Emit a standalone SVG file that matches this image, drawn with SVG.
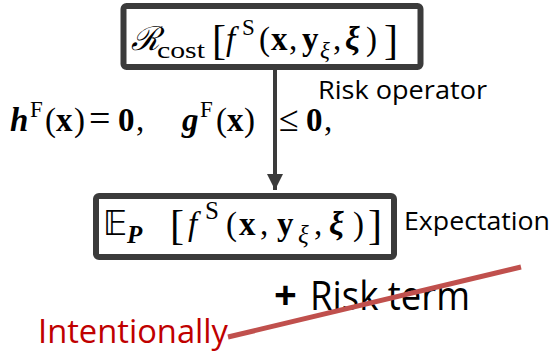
<svg xmlns="http://www.w3.org/2000/svg" width="557" height="352" viewBox="0 0 557 352">
<style>
.box{fill:#fff;stroke:#3b3b3b;stroke-width:6}
.m{font-family:"Liberation Serif","DejaVu Serif",serif;font-size:33px;fill:#000}
.s{font-size:23px}
.br{font-size:42px;font-weight:normal}
.lbl{font-family:"Open Sans","Liberation Sans",sans-serif;fill:#000}
.b{font-weight:bold}
.i{font-style:italic}
</style>
<defs>
<marker id="ah" viewBox="0 0 10 10" refX="10" refY="5" markerWidth="4" markerHeight="4.25" orient="auto" markerUnits="strokeWidth">
<path d="M0,0 L10,5 L0,10 Z" fill="#3b3b3b"/>
</marker>
</defs>
<rect width="557" height="352" fill="#fff"/>
<g id="connectors">
<line x1="275" y1="70" x2="275" y2="190" stroke="#3b3b3b" stroke-width="4" marker-end="url(#ah)"/>
</g>
<g id="node-risk">
<rect class="box" x="123.5" y="6" width="297" height="61" rx="3"/>
<g class="m">
<text x="131" y="50" font-family="DejaVu Serif" font-style="italic" font-size="33">ℛ</text>
<text x="157" y="58" class="s" font-size="26" textLength="48" lengthAdjust="spacingAndGlyphs">cost</text>
<text x="212" y="54" class="br">[</text>
<text x="226" y="50" class="i">f</text>
<text x="242" y="35" class="s">S</text>
<text x="259" y="50">(</text>
<text x="271" y="50" class="b">x</text>
<text x="289" y="50">,</text>
<text x="302" y="50" class="b">y</text>
<text x="320" y="58" class="s i">ξ</text>
<text x="333" y="50">,</text>
<text x="345" y="50" class="b i">ξ</text>
<text x="366" y="50">)</text>
<text x="384" y="54" class="br">]</text>
</g>
</g>
<g id="constraints" class="m">
<text x="10" y="131" class="b i">h</text>
<text x="30" y="117" class="s">F</text>
<text x="45" y="131">(</text>
<text x="56" y="131" class="b">x</text>
<text x="74" y="131">)</text>
<text x="89" y="131" font-size="38">=</text>
<text x="118" y="131" class="b">0</text>
<text x="136" y="131">,</text>
<text x="182" y="131" class="b i">g</text>
<text x="200" y="117" class="s">F</text>
<text x="216" y="131">(</text>
<text x="227" y="131" class="b">x</text>
<text x="244" y="131">)</text>
<text x="279" y="131" font-size="36">≤</text>
<text x="306" y="131" class="b">0</text>
<text x="324" y="131">,</text>
</g>
<text class="lbl" x="318" y="99" font-size="26" textLength="169" lengthAdjust="spacingAndGlyphs">Risk operator</text>
<g id="node-expectation">
<rect class="box" x="96" y="196" width="298" height="61" rx="3"/>
<g class="m" font-size="36">
<text x="103" y="235" font-family="DejaVu Sans" font-size="33">𝔼</text>
<text x="127" y="243" class="b i" font-size="25">P</text>
<text x="170" y="239" class="br" font-size="46">[</text>
<text x="188" y="235" class="i">f</text>
<text x="205" y="219" font-size="25">S</text>
<text x="226" y="235">(</text>
<text x="239" y="235" class="b">x</text>
<text x="260" y="235">,</text>
<text x="277" y="235" class="b">y</text>
<text x="298" y="243" class="i" font-size="25">ξ</text>
<text x="314" y="235">,</text>
<text x="329" y="235" class="b i">ξ</text>
<text x="353" y="235">)</text>
<text x="368" y="239" class="br" font-size="46">]</text>
</g>
</g>
<text class="lbl" x="404" y="230" font-size="26" textLength="146" lengthAdjust="spacingAndGlyphs">Expectation</text>
<g id="risk-term">
<text class="lbl" x="274" y="309" font-size="40" font-weight="bold">+</text>
<text class="lbl" x="310" y="310" font-size="40" textLength="160" lengthAdjust="spacingAndGlyphs">Risk term</text>
</g>
<text class="lbl" x="38" y="343" font-size="33" style="fill:#c00000" textLength="190" lengthAdjust="spacingAndGlyphs">Intentionally</text>
<line x1="228" y1="337" x2="521" y2="267" stroke="#c0504d" stroke-width="5"/>
</svg>
